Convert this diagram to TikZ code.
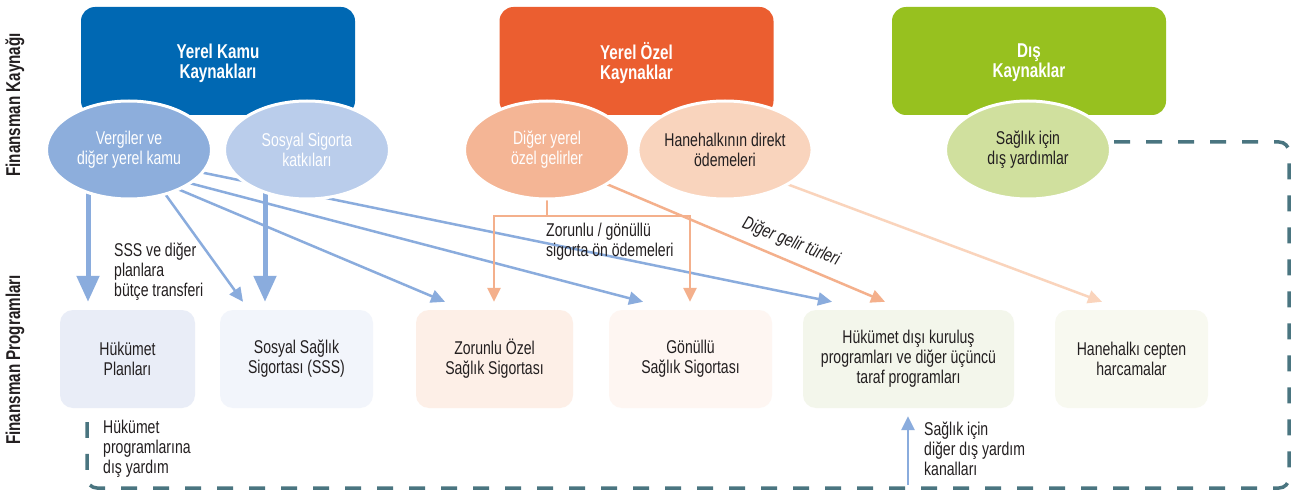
\documentclass[tikz,border=0pt]{standalone}
\usepackage{fontspec}
\setmainfont{Liberation Sans}[FakeStretch=0.76]
\usetikzlibrary{arrows.meta,shapes.geometric}
\definecolor{kamublue}{RGB}{0,104,179}
\definecolor{ozelorange}{RGB}{235,94,48}
\definecolor{disgreen}{RGB}{151,193,31}
\definecolor{vergiell}{RGB}{141,174,220}
\definecolor{sosyalell}{RGB}{186,205,235}
\definecolor{digerell}{RGB}{244,181,149}
\definecolor{haneell}{RGB}{249,212,189}
\definecolor{saglikell}{RGB}{208,224,158}
\definecolor{boxa}{RGB}{233,237,247}
\definecolor{boxb}{RGB}{242,245,251}
\definecolor{boxc}{RGB}{253,239,231}
\definecolor{boxd}{RGB}{254,246,242}
\definecolor{boxe}{RGB}{243,246,235}
\definecolor{boxf}{RGB}{248,249,240}
\definecolor{dashcol}{RGB}{74,117,128}
\definecolor{arrowblue}{RGB}{138,172,221}
\definecolor{arroworange}{RGB}{244,176,140}
\definecolor{arrowlight}{RGB}{250,212,188}
\definecolor{txt}{RGB}{35,31,32}
\pgfdeclarelayer{bg}
\pgfsetlayers{bg,main}
\begin{document}
\begin{tikzpicture}[x=1pt,y=-1pt,
  every node/.style={font=\fontsize{18.5}{20}\selectfont, text=txt, align=center},
  topbox/.style={rectangle, rounded corners=14pt, minimum width=274pt, minimum height=108pt, inner sep=0},
  titletext/.style={font=\fontsize{20}{20}\selectfont\bfseries, text=white},
  ell/.style={ellipse, draw=white, line width=3pt, minimum width=165pt, minimum height=98pt, inner sep=1pt},
  progbox/.style={rectangle, rounded corners=13pt, minimum height=98pt, inner sep=0},
  lbl/.style={anchor=west, align=left, inner sep=0},
  sidelbl/.style={font=\fontsize{20}{20}\selectfont\bfseries, rotate=90, inner sep=0},
  bline/.style={draw=arrowblue, line width=2.5pt, -{Triangle[length=14pt,width=13pt]}},
  bigarrow/.style={draw=arrowblue, line width=5pt, -{Triangle[length=26pt,width=22pt]}},
  oline/.style={draw=arroworange, line width=2.5pt},
  oarrow/.style={oline, -{Triangle[length=14pt,width=13pt]}},
  larrow/.style={draw=arrowlight, line width=2.5pt, -{Triangle[length=14pt,width=13pt]}},
  dashline/.style={draw=dashcol, line width=3.5pt, dash pattern=on 16pt off 16pt, rounded corners=10pt}
]
\useasboundingbox (0,0) rectangle (1296,492);
\begin{pgfonlayer}{bg}
\fill[white] (0,0) rectangle (1296,492);
\end{pgfonlayer}

% side labels
\node[sidelbl] (sideA) at (15,105) {Finansman Kaynağı};
\node[sidelbl] (sideB) at (15,360) {Finansman Programları};

% top boxes
\node[topbox, fill=kamublue] (kamu) at (218,61) {};
\node[titletext] (kamut) at (218,63) {Yerel Kamu\\Kaynakları};
\node[topbox, fill=ozelorange] (ozel) at (636.5,61) {};
\node[titletext] (ozelt) at (636.5,63) {Yerel Özel\\Kaynaklar};
\node[topbox, fill=disgreen] (dis) at (1029,61) {};
\node[titletext] (dist) at (1029,63) {Dış\\Kaynaklar};

% ellipses
\node[ell, fill=vergiell, text=white] (verg) at (129,150) {Vergiler ve\\diğer yerel kamu};
\node[ell, fill=sosyalell, text=white] (sos) at (307,150) {Sosyal Sigorta\\katkıları};
\node[ell, fill=digerell, text=white] (dig) at (547,150) {Diğer yerel\\özel gelirler};
\node[ell, fill=haneell] (hane) at (725,150) {Hanehalkının direkt\\ödemeleri};
\node[ell, fill=saglikell] (sag) at (1028,150) {Sağlık için\\dış yardımlar};

% program boxes
\node[progbox, fill=boxa, minimum width=135pt] (gov) at (127.5,359) {Hükümet\\Planları};
\node[progbox, fill=boxb, minimum width=153pt] (sss) at (296.5,359) {Sosyal Sağlık\\Sigortası (SSS)};
\node[progbox, fill=boxc, minimum width=157pt] (zor) at (494.5,359) {Zorunlu Özel\\Sağlık Sigortası};
\node[progbox, fill=boxd, minimum width=163pt] (gon) at (690.5,359) {Gönüllü\\Sağlık Sigortası};
\node[progbox, fill=boxe, minimum width=211pt] (ngo) at (908.5,359) {Hükümet dışı kuruluş\\programları ve diğer üçüncü\\taraf programları};
\node[progbox, fill=boxf, minimum width=153pt] (hh) at (1131.5,359) {Hanehalkı cepten\\harcamalar};

% connectors (behind ellipses)
\begin{pgfonlayer}{bg}
\draw[bigarrow] ([shift={(-41,0)}]verg.center) -- ([shift={(-39.5,-8)}]gov.north);
\draw[bigarrow] ([shift={(-42,0)}]sos.center) -- ([shift={(-31.5,-8)}]sss.north);
\draw[bline] ([shift={(21,23)}]verg.center) -- ([shift={(-53.5,-8)}]sss.north);
\draw[bline] ([shift={(32,32)}]verg.center) -- ([shift={(-49.5,-8)}]zor.north);
\draw[bline] ([shift={(41,28)}]verg.center) -- ([shift={(-47.5,-8)}]gon.north);
\draw[bline] ([shift={(51,18)}]verg.center) -- ([shift={(-76.5,-8)}]ngo.north);
\coordinate (split) at ([shift={(0,66)}]dig.center);
\draw[oline] (dig.center) -- (split);
\draw[oarrow] (split) -| ([shift={(-0.5,-8)}]zor.north);
\draw[oarrow] (split) -| ([shift={(-0.5,-8)}]gon.north);
\draw[oarrow] ([shift={(43,27)}]dig.center) -- ([shift={(-23.5,-8)}]ngo.north);
\draw[larrow] ([shift={(35,24)}]hane.center) -- ([shift={(-29.5,-8)}]hh.north);
\end{pgfonlayer}

\draw[bline] ([shift={(-0.5,77)}]ngo.south) -- ([shift={(-0.5,8)}]ngo.south);

% dashed external aid line
\coordinate (dR) at (1289,488);
\coordinate (dEnd) at ([shift={(-40.5,14)}]gov.south);
\draw[dashline] ([shift={(2,-8)}]sag.east) -| (dR) -| (dEnd);

% labels
\node[lbl] (lblA) at (114,272) {SSS ve diğer\\planlara\\bütçe transferi};
\node[lbl] (lblB) at (103,449) {Hükümet\\programlarına\\dış yardım};
\node[lbl] (lblC) at (924,449) {Sağlık için\\diğer dış yardım\\kanalları};
\node[lbl] (lblD) at (546,242) {Zorunlu / gönüllü\\sigorta ön ödemeleri};
\node[inner sep=0, rotate=-22, font=\fontsize{18.5}{20}\selectfont\itshape] (lblE) at (791,242) {Diğer gelir türleri};
\end{tikzpicture}
\end{document}
